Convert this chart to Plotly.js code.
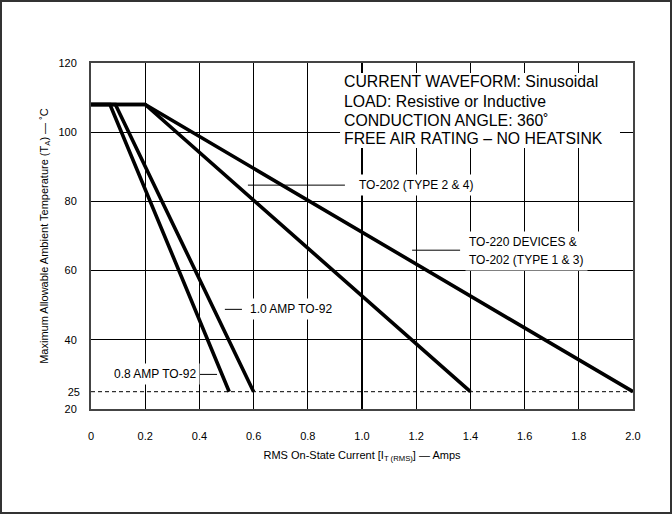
<!DOCTYPE html>
<html>
<head>
<meta charset="utf-8">
<script src="https://cdn.plot.ly/plotly-3.0.1.min.js"></script>
<style>
  html, body { margin: 0; padding: 0; background: #fff; }
  #frame { position: absolute; left: 0; top: 0; width: 672px; height: 514px; box-sizing: border-box;
           border-left: 2px solid #333; border-top: 2px solid #333; border-bottom: 2px solid #333; border-right: 2px solid #333;
           pointer-events: none; z-index: 10; }
  #chart { position: absolute; left: 0; top: 0; width: 672px; height: 514px; }
</style>
</head>
<body>
<div id="chart"></div>
<div id="frame"></div>
<script>
// ---- data ----
const xTickVals = [0, 0.2, 0.4, 0.6, 0.8, 1.0, 1.2, 1.4, 1.6, 1.8, 2.0];
const xTickText = ["0", "0.2", "0.4", "0.6", "0.8", "1.0", "1.2", "1.4", "1.6", "1.8", "2.0"];
const yGridVals = [20, 40, 60, 80, 100, 120];
const yGridText = ["20", "40", "60", "80", "100", "120"];
const yExtraVals = [25];
const yExtraText = ["25"];

const amp08_x = [0, 0.07, 0.51];
const amp08_y = [108, 108, 25];
const amp10_x = [0, 0.09, 0.60];
const amp10_y = [108, 108, 25];
const to202_24_x = [0, 0.2, 1.4];
const to202_24_y = [108, 108, 25];
const to220_x = [0, 0.2, 2.0];
const to220_y = [108, 108, 25];
const limit_x = [0, 2.0];
const limit_y = [25, 25];

const boxLines = [
  "CURRENT WAVEFORM: Sinusoidal",
  "LOAD: Resistive or Inductive",
  "CONDUCTION ANGLE: 360˚",
  "FREE AIR RATING – NO HEATSINK"
];

// ---- traces ----
const thick = {color: "#000", width: 3.6};
const traces = [
  {x: limit_x, y: limit_y, mode: "lines", line: {color: "#000", width: 1, dash: "4px,3px"}, hoverinfo: "skip"},
  {x: amp08_x, y: amp08_y, mode: "lines", line: thick, name: "0.8 AMP TO-92"},
  {x: amp10_x, y: amp10_y, mode: "lines", line: thick, name: "1.0 AMP TO-92"},
  {x: to202_24_x, y: to202_24_y, mode: "lines", line: thick, name: "TO-202 (TYPE 2 & 4)"},
  {x: to220_x, y: to220_y, mode: "lines", line: thick, name: "TO-220 DEVICES & TO-202 (TYPE 1 & 3)"},
  {x: [null], y: [null], yaxis: "y2", mode: "lines", hoverinfo: "skip"}
];

const font = {family: "Liberation Sans, Arial, sans-serif", color: "#000"};
const lblFont = Object.assign({}, font, {size: 12});
const boxFont = Object.assign({}, font, {size: 15.8});

function leader(x0, x1, y) {
  return {type: "line", xref: "x", yref: "y", x0: x0, x1: x1, y0: y, y1: y, line: {color: "#000", width: 1}, layer: "above"};
}
function label(text, x, y) {
  return {text: text, x: x, y: y, xref: "x", yref: "y", xanchor: "left", yanchor: "middle",
          showarrow: false, font: lblFont, bgcolor: "#fff", borderpad: 3};
}

const annotations = [
  label("TO-202 (TYPE 2 &amp; 4)", 0.975, 84.7),
  label("TO-220 DEVICES &amp;", 1.380, 68.3),
  label("TO-202 (TYPE 1 &amp; 3)", 1.380, 63.2),
  label("1.0 AMP TO-92", 0.572, 48.8),
  label("0.8 AMP TO-92", 0.070, 30.0)
];
const boxY = [114.6, 108.8, 103.3, 98.2];
boxLines.forEach((t, i) => {
  annotations.push({text: t, x: 0.928, y: boxY[i], xref: "x", yref: "y", xanchor: "left", yanchor: "middle",
                    showarrow: false, font: boxFont});
});

const shapes = [
  {type: "rect", xref: "x", yref: "y", x0: 0.919, x1: 1.952, y0: 95.4, y1: 117.1, fillcolor: "#fff", line: {width: 0}, layer: "above"},
  leader(0.579, 0.937, 84.7),
  leader(1.185, 1.362, 65.9),
  leader(0.494, 0.557, 48.8),
  leader(0.402, 0.465, 30.0)
];

const layout = {
  width: 672, height: 514,
  margin: {l: 91, r: 39, t: 63, b: 105},
  paper_bgcolor: "#fff", plot_bgcolor: "#fff",
  showlegend: false,
  font: Object.assign({}, font, {size: 11}),
  xaxis: {
    range: [0, 2.0], tickmode: "array", tickvals: xTickVals, ticktext: xTickText,
    showgrid: true, gridcolor: "#000", gridwidth: 1.2, zeroline: false,
    showline: true, mirror: true, linecolor: "#444", linewidth: 2,
    ticks: "", ticklabelstandoff: 16, tickfont: {size: 11},
    title: {text: "RMS On-State Current [I<sub>T (RMS)</sub>] — Amps", font: {size: 11}, standoff: 10}
  },
  yaxis: {
    range: [20, 120], tickmode: "array", tickvals: yGridVals, ticktext: yGridText,
    showgrid: true, gridcolor: "#000", gridwidth: 1.2, zeroline: false,
    showline: true, mirror: true, linecolor: "#444", linewidth: 2,
    ticks: "", ticklabelstandoff: 10, tickfont: {size: 11},
    title: {text: "Maximum Allowable Ambient Temperature (T<sub>A</sub>) — ˚C", font: {size: 11}, standoff: 8}
  },
  yaxis2: {
    range: [20, 120], overlaying: "y", side: "left", tickmode: "array", tickvals: yExtraVals, ticktext: yExtraText,
    showgrid: false, zeroline: false, showline: false, ticks: "", ticklabelstandoff: 10, tickfont: {size: 11}
  },
  annotations: annotations,
  shapes: shapes
};

Plotly.newPlot("chart", traces, layout, {displayModeBar: false, staticPlot: true});
</script>
</body>
</html>
